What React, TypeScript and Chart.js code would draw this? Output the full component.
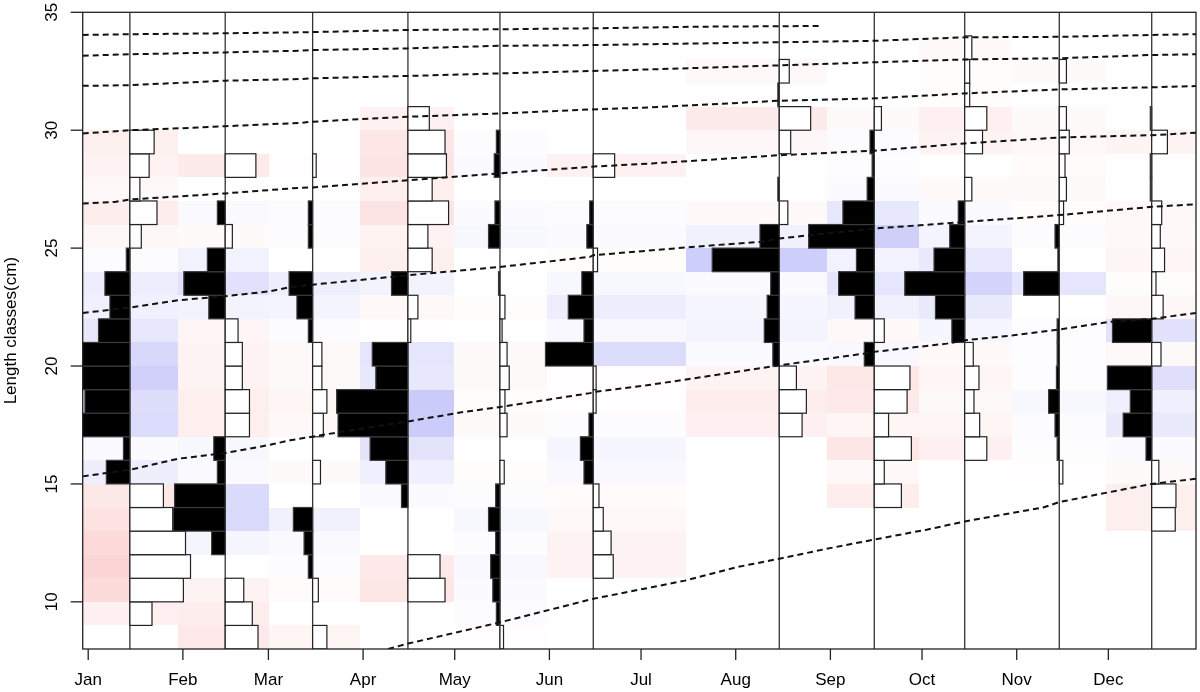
import React, { useEffect, useRef } from "react";
import { Chart, registerables } from "chart.js";

Chart.register(...registerables);

// Length classes (lower bounds, 1 cm wide)
const lengthBins = [8, 9, 10, 11, 12, 13, 14, 15, 16, 17, 18, 19, 20, 21, 22, 23, 24, 25, 26, 27, 28, 29, 30, 31, 32, 33, 34];
const binWidth = 1;

// Sampling dates (day of year)
const sampleDays = [13.65, 44.86, 73.48, 104.68, 134.81, 165.36, 226.26, 257.37, 286.97, 317.94, 348.2];

// Restructured scores per sample, bins 8..34 (positive = black / blue, negative = white / pink)
const janScores = [0, -0.31, -0.75, -0.85, -0.78, -0.6, -0.47, 0.33, 0.09, 0.68, 0.63, 0.9, 0.75, 0.44, 0.28, 0.35, 0.05, -0.16, -0.38, -0.14, -0.27, -0.34, 0, 0, 0, 0, 0];
const febScores = [-0.46, -0.38, -0.26, 0, 0.19, 0.73, 0.71, 0.11, 0.16, -0.34, -0.34, -0.24, -0.24, -0.18, 0.23, 0.58, 0.25, -0.1, 0.11, 0, -0.43, 0, 0, 0, 0, 0, 0];
const marScores = [-0.2, 0, -0.08, 0.06, 0.12, 0.27, 0, -0.11, 0, -0.15, -0.2, -0.13, -0.13, 0.06, 0.22, 0.33, 0, 0.06, 0.06, 0, -0.05, 0, 0, 0, 0, 0, 0];
const aprScores = [0, 0, -0.52, -0.45, 0, 0, 0.09, 0.31, 0.53, 0.98, 1.0, 0.45, 0.5, -0.04, -0.14, 0.23, -0.34, -0.28, -0.57, -0.34, -0.54, -0.52, -0.3, 0, 0, 0, 0];
const mayScores = [-0.05, 0.05, 0.1, 0.13, 0.06, 0.16, 0.06, -0.06, 0, -0.1, -0.07, -0.13, -0.1, -0.03, -0.07, 0.02, 0, 0.16, 0.07, 0, 0.08, 0.05, 0, 0, 0, 0, 0];
const junScores = [0, 0, 0, -0.28, -0.25, -0.14, -0.08, 0.13, 0.18, 0.06, -0.04, -0.04, 0.67, 0.13, 0.35, 0.16, -0.06, 0.09, 0.05, 0, -0.3, 0, 0, 0, 0, 0, 0];
const augScores = [0, 0, 0, 0, 0, 0, 0, 0, 0, -0.32, -0.38, -0.24, 0.09, 0.21, 0.17, 0.12, 0.94, 0.27, -0.12, 0.02, 0, -0.16, -0.44, 0.02, -0.14, 0, 0];
const sepScores = [0, 0, 0, 0, 0, 0, -0.38, -0.14, -0.52, -0.2, -0.46, -0.5, 0.14, -0.14, 0.27, 0.5, 0.25, 0.92, 0.44, 0.1, 0.03, 0.06, -0.1, 0, 0, 0, 0];
const octScores = [0, 0, 0, 0, 0, 0, 0, 0, -0.31, -0.21, -0.13, -0.2, -0.12, 0.18, 0.41, 0.84, 0.43, 0.21, 0.09, -0.1, 0, -0.25, -0.31, -0.07, -0.07, -0.1, 0];
const novScores = [0, 0, 0, 0, 0, 0, 0, -0.05, 0.03, 0.06, 0.15, 0.04, 0.03, 0.03, 0, 0.5, 0.02, 0.06, -0.06, -0.1, -0.08, -0.14, -0.1, 0, -0.1, 0, 0];
const decScores = [0, 0, 0, 0, 0, -0.33, -0.34, -0.1, 0.08, 0.4, 0.3, 0.62, -0.13, 0.55, -0.16, -0.06, -0.18, -0.12, -0.14, 0.02, 0.02, -0.22, 0.02, 0, 0, 0, 0];

// Month axis
const monthTicks = [0, 31, 59, 90, 120, 151, 181, 212, 243, 273, 304, 334];
const monthLabels = ["Jan", "Feb", "Mar", "Apr", "May", "Jun", "Jul", "Aug", "Sep", "Oct", "Nov", "Dec"];
const lengthTicks = [10, 15, 20, 25, 30, 35];

// Growth curves [day, length]
const curveA = [[98.2, 8.0], [104.7, 8.23], [134.8, 9.13], [165.4, 10.13], [184.5, 10.62], [195.4, 10.9], [212.3, 11.47], [226.3, 11.83], [241.8, 12.25], [257.3, 12.64], [274.5, 13.06], [287.0, 13.41], [312.7, 14.0], [317.9, 14.23], [334.3, 14.65], [348.2, 15.0], [362.7, 15.22]];
const curveB = [[-1.8, 15.32], [13.65, 15.6], [29.5, 16.07], [44.86, 16.31], [58.4, 16.63], [66.1, 16.85], [82.4, 17.2], [104.7, 17.65], [122.8, 18.05], [134.8, 18.26], [164.3, 18.85], [165.4, 18.9], [182.8, 19.18], [204.6, 19.6], [226.3, 20.03], [254.3, 20.53], [257.3, 20.6], [281.1, 20.95], [287.0, 21.09], [302.9, 21.3], [317.9, 21.55], [334.3, 21.87], [348.2, 22.0], [362.7, 22.25]];
const curveC = [[-1.8, 22.25], [13.65, 22.48], [29.4, 22.79], [44.86, 22.96], [59.5, 23.17], [66.1, 23.35], [73.5, 23.45], [104.7, 23.85], [134.8, 24.2], [164.3, 24.63], [165.4, 24.7], [204.5, 25.12], [219.9, 25.26], [226.3, 25.41], [257.3, 25.83], [272.3, 25.97], [287.0, 26.11], [317.9, 26.4], [348.2, 26.75], [362.7, 26.86]];
const curveD = [[-1.8, 26.89], [8.7, 26.96], [13.65, 27.06], [44.86, 27.32], [69.3, 27.56], [73.5, 27.57], [104.7, 27.88], [134.8, 28.17], [164.3, 28.45], [184.6, 28.59], [226.3, 28.94], [257.3, 29.13], [287.0, 29.44], [317.9, 29.69], [348.2, 29.79], [362.7, 29.89]];
const curveE = [[-1.8, 29.86], [13.65, 30.0], [30.0, 30.08], [44.86, 30.17], [69.3, 30.31], [73.5, 30.36], [89.0, 30.47], [104.7, 30.57], [134.8, 30.71], [164.3, 30.88], [184.6, 30.97], [226.3, 31.25], [257.3, 31.35], [287.0, 31.56], [317.9, 31.73], [348.2, 31.82], [362.7, 31.87]];
const curveF = [[-1.8, 31.88], [13.65, 31.91], [44.86, 32.1], [69.3, 32.17], [73.5, 32.2], [104.7, 32.3], [134.8, 32.41], [164.3, 32.51], [184.6, 32.58], [226.3, 32.75], [257.3, 32.88], [287.0, 33.0], [317.9, 33.05], [348.2, 33.19], [362.7, 33.22]];
const curveG = [[-1.8, 33.16], [13.65, 33.22], [44.86, 33.3], [69.3, 33.37], [73.5, 33.4], [104.7, 33.47], [134.8, 33.58], [164.3, 33.61], [226.3, 33.73], [257.3, 33.79], [287.0, 33.94], [317.9, 33.96], [348.2, 34.04], [362.7, 34.07]];
const curveH = [[-1.8, 34.04], [13.65, 34.07], [44.86, 34.11], [69.3, 34.15], [104.7, 34.25], [134.8, 34.28], [164.3, 34.32], [200.3, 34.39], [240.1, 34.42]];

const sampleScores = [janScores, febScores, marScores, aprScores, mayScores, junScores, augScores, sepScores, octScores, novScores, decScores];
const growthCurves = [curveA, curveB, curveC, curveD, curveE, curveF, curveG, curveH];

const barSpanDays = 23.35; // histogram width (days) for a score of 1
const FONT = '17px "Liberation Sans", Arial, sans-serif';

function cellColor(v: number): string {
  const t = Math.min(Math.abs(v), 1);
  const end = v >= 0 ? [203, 203, 250] : [251, 207, 207];
  const c = end.map((e) => Math.round(255 + (e - 255) * t));
  return `rgb(${c[0]},${c[1]},${c[2]})`;
}

const lfqPlugin = {
  id: "lfqPlugin",
  beforeDatasetsDraw(chart: any) {
    const { ctx, chartArea: a, scales } = chart;
    const x = scales.x;
    const y = scales.y;
    const n = sampleDays.length;
    ctx.save();
    ctx.beginPath();
    ctx.rect(a.left, a.top, a.right - a.left, a.bottom - a.top);
    ctx.clip();

    // heat-map cells
    for (let i = 0; i < n; i++) {
      const left = i === 0 ? sampleDays[0] - (sampleDays[1] - sampleDays[0]) / 2 : (sampleDays[i - 1] + sampleDays[i]) / 2;
      const right = i === n - 1 ? sampleDays[n - 1] + (sampleDays[n - 1] - sampleDays[n - 2]) / 2 : (sampleDays[i] + sampleDays[i + 1]) / 2;
      const xl = Math.round(x.getPixelForValue(left));
      const xr = Math.round(x.getPixelForValue(right));
      lengthBins.forEach((b, j) => {
        const v = sampleScores[i][j];
        if (v === 0) return;
        const yt = Math.round(y.getPixelForValue(b + binWidth));
        const yb = Math.round(y.getPixelForValue(b));
        ctx.fillStyle = cellColor(v);
        ctx.fillRect(xl, yt, xr - xl, yb - yt);
      });
    }

    // sample lines
    ctx.strokeStyle = "#333";
    ctx.lineWidth = 1.3;
    sampleDays.forEach((d) => {
      const px = x.getPixelForValue(d);
      ctx.beginPath();
      ctx.moveTo(px, a.top);
      ctx.lineTo(px, a.bottom);
      ctx.stroke();
    });

    // histogram bars: positive to the left (black), negative to the right (white)
    for (let i = 0; i < n; i++) {
      const d = sampleDays[i];
      lengthBins.forEach((b, j) => {
        const v = sampleScores[i][j];
        if (v === 0) return;
        const yt = y.getPixelForValue(b + binWidth);
        const yb = y.getPixelForValue(b);
        const x0 = x.getPixelForValue(d);
        const x1 = x.getPixelForValue(d - v * barSpanDays);
        const xl = Math.min(x0, x1);
        const w = Math.abs(x1 - x0);
        ctx.fillStyle = v > 0 ? "#000" : "#fff";
        ctx.fillRect(xl, yt, w, yb - yt);
        ctx.strokeStyle = v > 0 ? "#3a3a3a" : "#222";
        ctx.lineWidth = 1.2;
        ctx.strokeRect(xl, yt, w, yb - yt);
      });
    }
    ctx.restore();
  },
  afterDraw(chart: any) {
    const { ctx, chartArea: a, scales } = chart;
    const x = scales.x;
    const y = scales.y;
    ctx.save();
    ctx.strokeStyle = "#222";
    ctx.lineWidth = 1.3;
    ctx.strokeRect(a.left, a.top, a.right - a.left, a.bottom - a.top);

    ctx.fillStyle = "#000";
    ctx.font = FONT;
    // x axis
    ctx.textAlign = "center";
    ctx.textBaseline = "middle";
    monthTicks.forEach((t, k) => {
      const px = x.getPixelForValue(t);
      ctx.beginPath();
      ctx.moveTo(px, a.bottom);
      ctx.lineTo(px, a.bottom + 11);
      ctx.stroke();
      ctx.fillText(monthLabels[k], px, a.bottom + 31);
    });
    // y axis
    lengthTicks.forEach((t) => {
      const py = y.getPixelForValue(t);
      ctx.beginPath();
      ctx.moveTo(a.left, py);
      ctx.lineTo(a.left - 12, py);
      ctx.stroke();
      ctx.save();
      ctx.translate(a.left - 30, py);
      ctx.rotate(-Math.PI / 2);
      ctx.fillText(String(t), 0, 0);
      ctx.restore();
    });
    ctx.save();
    ctx.translate(11, (a.top + a.bottom) / 2);
    ctx.rotate(-Math.PI / 2);
    ctx.fillText("Length classes(cm)", 0, 0);
    ctx.restore();
    ctx.restore();
  },
};

export default function App() {
  const canvasRef = useRef<HTMLCanvasElement | null>(null);

  useEffect(() => {
    document.body.style.margin = "0";
    const canvas = canvasRef.current;
    if (!canvas) return;
    const chart = new Chart(canvas, {
      type: "scatter",
      data: {
        datasets: growthCurves.map((c, k) => ({
          label: `cohort ${k + 1}`,
          data: c.map((p) => ({ x: p[0], y: p[1] })),
          showLine: true,
          borderColor: "#111",
          borderWidth: 2,
          borderDash: [6, 4],
          pointRadius: 0,
          pointHoverRadius: 0,
          fill: false,
          tension: 0,
        })),
      },
      options: {
        responsive: false,
        animation: false,
        devicePixelRatio: 1,
        layout: { padding: { left: 82.7, right: 4, top: 12.3, bottom: 43 } },
        scales: {
          x: { type: "linear", min: -1.8, max: 362.7, display: false },
          y: { type: "linear", min: 8, max: 35, display: false },
        },
        plugins: {
          legend: { display: false },
          tooltip: { enabled: false },
        },
      },
      plugins: [lfqPlugin],
    } as any);
    return () => chart.destroy();
  }, []);

  return (
    <div style={{ width: 1200, height: 692, background: "#fff" }}>
      <canvas ref={canvasRef} width={1200} height={692} style={{ display: "block" }} />
    </div>
  );
}
